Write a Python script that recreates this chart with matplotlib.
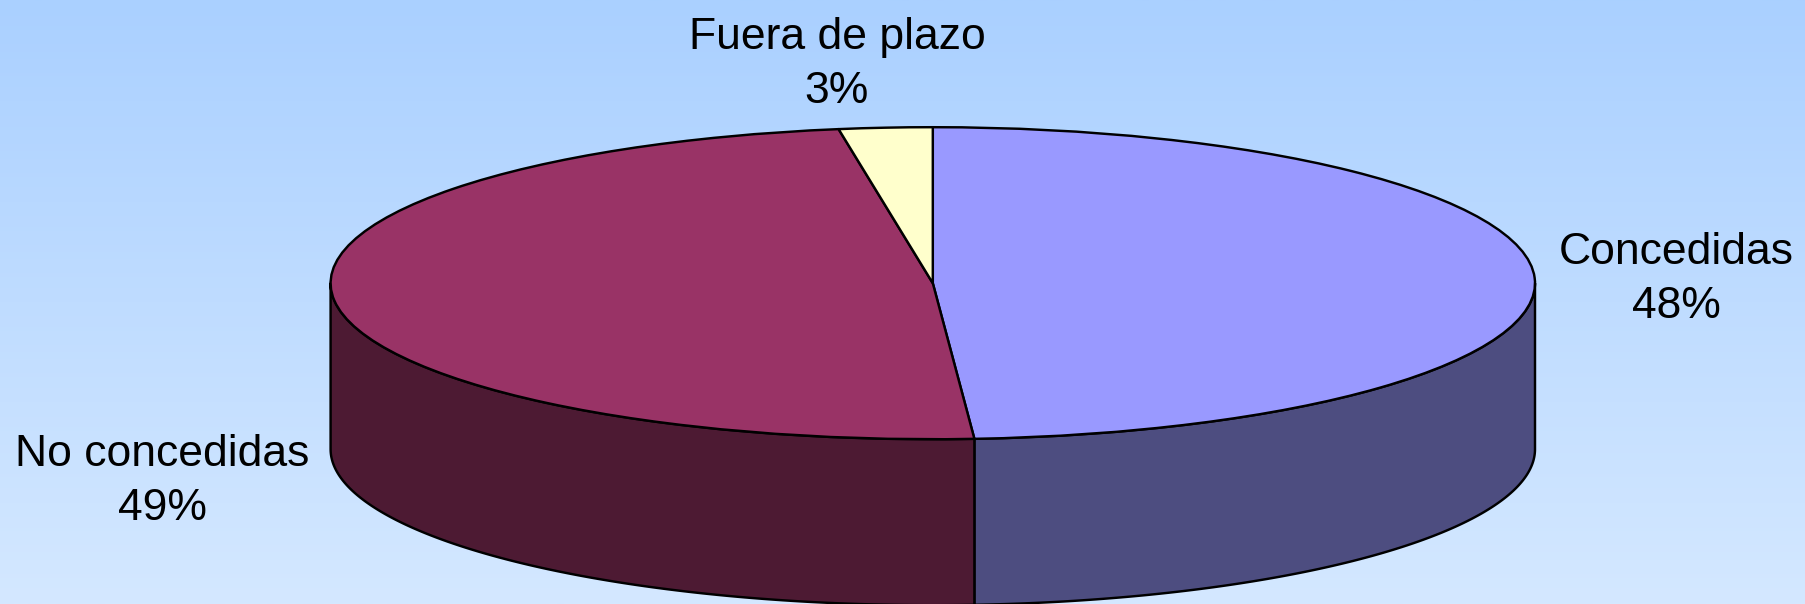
import numpy as np
import matplotlib
matplotlib.use("Agg")
import matplotlib.pyplot as plt
from matplotlib.colors import LinearSegmentedColormap

categories = ["Concedidas", "No concedidas", "Fuera de plazo"]
shares = [48.9, 48.6, 2.5]
pct_labels = ["48%", "49%", "3%"]
top_colors = ["#9999FF", "#993366", "#FFFFCC"]
side_colors = ["#4D4D80", "#4D1A33", "#808066"]

W, H = 1805, 604
CX, CY, RX, RY, DEPTH = 932.8, 283.2, 602.2, 156.0, 166.0
LW = 1.75
# label layout in pixels: centre x, first baseline, second baseline
label_pos = [(1676.5, 264, 318), (162.5, 466, 520), (837, 49, 103)]

plt.rcParams["font.family"] = ["Liberation Sans", "DejaVu Sans"]
fig = plt.figure(figsize=(W / 100, H / 100), dpi=100)

bg = fig.add_axes([0, 0, 1, 1], zorder=0)
cmap = LinearSegmentedColormap.from_list("bg", ["#AAD0FF", "#D4E8FF"])
bg.imshow(np.linspace(0, 1, 256).reshape(-1, 1), aspect="auto", cmap=cmap)
bg.axis("off")

ax = fig.add_axes([0, 0, 1, 1], zorder=1)
ax.patch.set_alpha(0)
wedges, _ = ax.pie(
    shares, colors=top_colors, startangle=90, counterclock=False,
    wedgeprops=dict(edgecolor="black", linewidth=LW, joinstyle="round", zorder=3),
)
ax.set_aspect("auto")
ax.set_xlim(-CX / RX, (W - CX) / RX)
ax.set_ylim(-(H - CY) / RY, CY / RY)
ax.axis("off")

depth = DEPTH / RY
for wedge, side in zip(wedges, side_colors):
    for lo, hi in ((-180, 0), (180, 360), (-540, -360)):
        a, b = max(wedge.theta1, lo), min(wedge.theta2, hi)
        if b <= a:
            continue
        t = np.radians(np.linspace(a, b, 200))
        x, y = np.cos(t), np.sin(t)
        ax.fill(np.r_[x, x[::-1]], np.r_[y, y[::-1] - depth],
                facecolor=side, edgecolor="black", linewidth=LW,
                joinstyle="round", zorder=2)

for name, pct, (px, y1, y2) in zip(categories, pct_labels, label_pos):
    for txt, py in ((name, y1), (pct, y2)):
        fig.text(px / W, 1 - py / H, txt, ha="center", va="baseline",
                 fontsize=32, color="black", zorder=5)

fig.savefig("out.png", dpi=100)
